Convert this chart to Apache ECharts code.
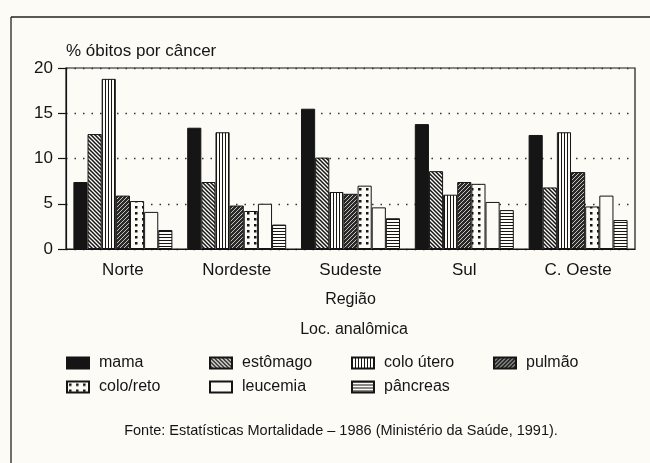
<!DOCTYPE html>
<html>
<head>
<meta charset="utf-8">
<script src="https://cdn.jsdelivr.net/npm/echarts@6/dist/echarts.min.js"></script>
<style>
  html, body { margin: 0; background: #fcfbf6; }
  #main { width: 650px; height: 463px; }
</style>
</head>
<body>
<div id="main"></div>
<script>
// dados (% óbitos por câncer, 1986)
var regioes = ['Norte', 'Nordeste', 'Sudeste', 'Sul', 'C. Oeste'];
var mama = [7.4, 13.4, 15.5, 13.8, 12.6];
var estomago = [12.7, 7.4, 10.1, 8.6, 6.8];
var coloUtero = [18.8, 12.9, 6.3, 6.0, 12.9];
var pulmao = [5.9, 4.8, 6.1, 7.4, 8.5];
var coloReto = [5.3, 4.2, 7.0, 7.2, 4.7];
var leucemia = [4.1, 5.0, 4.6, 5.2, 5.9];
var pancreas = [2.1, 2.7, 3.4, 4.3, 3.2];
var yTicks = [0, 5, 10, 15, 20];

var ink = '#151515';
var paper = '#fcfbf6';
var font = 'Liberation Sans';

// hachuras desenhadas num canvas pequeno e repetidas
function hatch (kind) {
  var c = document.createElement('canvas');
  var s = 4;
  if (kind === 'vert' || kind === 'horiz') { c.width = 3; c.height = 3; }
  else if (kind === 'dots') { c.width = 7; c.height = 6; }
  else { c.width = s; c.height = s; }
  var g = c.getContext('2d');
  g.fillStyle = paper;
  g.fillRect(0, 0, c.width, c.height);
  g.fillStyle = ink;
  g.strokeStyle = ink;
  if (kind === 'vert') {
    g.fillRect(0, 0, 1, 3);
  } else if (kind === 'horiz') {
    g.fillRect(0, 0, 3, 1);
  } else if (kind === 'dots') {
    g.fillRect(2, 2, 2.5, 2.5);
  } else if (kind === 'back') {
    g.lineWidth = 1.5;
    g.beginPath();
    g.moveTo(-1, -1); g.lineTo(s + 1, s + 1);
    g.moveTo(-1, s - 1); g.lineTo(1, s + 1);
    g.moveTo(s - 1, -1); g.lineTo(s + 1, 1);
    g.stroke();
  } else if (kind === 'fwd') {
    g.fillStyle = '#2a2a2a';
    g.fillRect(0, 0, s, s);
    g.strokeStyle = '#d8d8d0';
    g.lineWidth = 0.9;
    g.beginPath();
    g.moveTo(-1, s + 1); g.lineTo(s + 1, -1);
    g.moveTo(-1, 1); g.lineTo(1, -1);
    g.moveTo(s - 1, s + 1); g.lineTo(s + 1, s - 1);
    g.stroke();
  }
  return { image: c, repeat: 'repeat' };
}

var fills = {
  mama: ink,
  estomago: hatch('back'),
  coloUtero: hatch('vert'),
  pulmao: hatch('fwd'),
  coloReto: hatch('dots'),
  leucemia: paper,
  pancreas: hatch('horiz')
};

function bar (name, data, fill) {
  return {
    name: name,
    type: 'bar',
    data: data,
    barGap: 0,
    barCategoryGap: '13%',
    itemStyle: { color: fill, borderColor: ink, borderWidth: 1 },
    emphasis: { disabled: true }
  };
}

function legendCol (names, left) {
  return {
    data: names,
    orient: 'vertical',
    left: left,
    top: 355,
    padding: 0,
    itemGap: 8,
    itemWidth: 22,
    itemHeight: 11,
    icon: 'rect',
    selectedMode: false,
    textStyle: { fontFamily: font, fontSize: 16, color: ink, padding: [0, 0, 0, 5] }
  };
}

var myChart = echarts.init(document.getElementById('main'));
myChart.setOption({
  backgroundColor: paper,
  animation: false,
  textStyle: { fontFamily: font, color: ink },
  grid: {
    left: 66, right: 15, top: 68, bottom: 214,
    show: true, borderColor: ink, borderWidth: 1.2, backgroundColor: 'transparent'
  },
  xAxis: {
    type: 'category',
    data: regioes,
    name: 'Região',
    nameLocation: 'middle',
    nameGap: 43,
    nameTextStyle: { fontFamily: font, fontSize: 16, color: ink },
    axisLine: { lineStyle: { color: ink, width: 1.2 } },
    axisTick: { alignWithLabel: true, length: 7, lineStyle: { color: ink, width: 1.2 } },
    axisLabel: { fontFamily: font, fontSize: 17, color: ink, margin: 13 }
  },
  yAxis: {
    type: 'value',
    min: yTicks[0],
    max: yTicks[yTicks.length - 1],
    interval: 5,
    name: '% óbitos por câncer',
    nameLocation: 'end',
    nameGap: 8,
    nameTextStyle: { fontFamily: font, fontSize: 17, color: ink, align: 'left', verticalAlign: 'bottom' },
    axisLine: { show: true, lineStyle: { color: ink, width: 1.2 } },
    axisTick: { show: true, length: 8, lineStyle: { color: ink, width: 1.2 } },
    axisLabel: { fontFamily: font, fontSize: 17, color: ink, margin: 13 },
    splitLine: { show: true, lineStyle: { color: '#333', width: 1.3, type: [1.5, 7] } }
  },
  legend: [
    legendCol(['mama', 'colo/reto'], 66),
    legendCol(['estômago', 'leucemia'], 209),
    legendCol(['colo útero', 'pâncreas'], 351),
    legendCol(['pulmão'], 493)
  ],
  series: [
    bar('mama', mama, fills.mama),
    bar('estômago', estomago, fills.estomago),
    bar('colo útero', coloUtero, fills.coloUtero),
    bar('pulmão', pulmao, fills.pulmao),
    bar('colo/reto', coloReto, fills.coloReto),
    bar('leucemia', leucemia, fills.leucemia),
    bar('pâncreas', pancreas, fills.pancreas)
  ],
  graphic: [
    // moldura da figura (só esquerda e topo aparecem no recorte)
    { type: 'line', shape: { x1: 11, y1: 17, x2: 11, y2: 463 }, style: { stroke: '#222', lineWidth: 1.3 } },
    { type: 'line', shape: { x1: 11, y1: 17, x2: 650, y2: 17 }, style: { stroke: '#222', lineWidth: 1.3 } },
    {
      type: 'text', x: 354, y: 330,
      style: { text: 'Loc. analômica', font: '16px "' + font + '"', fill: ink, align: 'center', verticalAlign: 'middle' }
    },
    {
      type: 'text', x: 341, y: 431,
      style: { text: 'Fonte: Estatísticas Mortalidade – 1986 (Ministério da Saúde, 1991).', font: '14.5px "' + font + '"', fill: ink, align: 'center', verticalAlign: 'middle' }
    }
  ]
});
</script>
</body>
</html>
